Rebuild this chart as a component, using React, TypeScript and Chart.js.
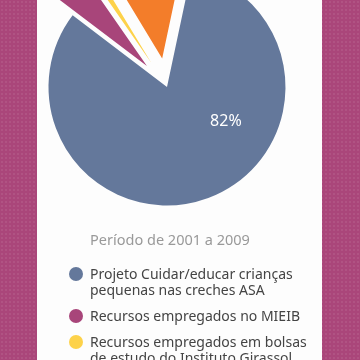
import React, { useEffect, useRef } from "react";
import { Chart, registerables } from "chart.js";

Chart.register(...registerables);

// ---- data ----
const categories: string[][] = [
  ["Projeto Cuidar/educar crianças", "pequenas nas creches ASA"],
  ["Recursos empregados no MIEIB"],
  ["Recursos empregados em bolsas", "de estudo do Instituto Girassol"],
  ["Outros"],
];
const values: number[] = [82, 5, 1, 12];
const sliceColors: string[] = ["#64789b", "#a8457a", "#fdd24a", "#f37d2a"];
const explodeShift: number[] = [0, 29, 29, 29]; // pixel shift of each slice along its bisector
const chartTitle = "Período de 2001 a 2009";

const FONT = "'Noto Sans', 'Open Sans', sans-serif";
const PIE_RADIUS = 118.5;
const CANVAS = 360;

// moves exploded slices outward without Chart.js shrinking/narrowing them
const explodePlugin = {
  id: "explode",
  afterDatasetsUpdate(chart: any) {
    const meta = chart.getDatasetMeta(0);
    meta.data.forEach((arc: any, i: number) => {
      const s = explodeShift[i] || 0;
      if (!s) return;
      const mid = (arc.startAngle + arc.endAngle) / 2;
      arc.x += Math.cos(mid) * s;
      arc.y += Math.sin(mid) * s;
    });
  },
};

const pctLabelPlugin = {
  id: "pctLabels",
  afterDatasetsDraw(chart: any) {
    const meta = chart.getDatasetMeta(0);
    const ds = chart.data.datasets[0];
    const sum = (ds.data as number[]).reduce((a, b) => a + b, 0);
    const ctx = chart.ctx;
    ctx.save();
    ctx.fillStyle = "#ffffff";
    ctx.font = `16px ${FONT}`;
    ctx.textAlign = "center";
    ctx.textBaseline = "middle";
    meta.data.forEach((arc: any, i: number) => {
      const v = ds.data[i] as number;
      const pct = Math.round((v / sum) * 100);
      if (pct < 10) return;
      const { x, y, startAngle, endAngle, outerRadius } = arc;
      const a = startAngle + (endAngle - startAngle) * 0.366;
      const r = outerRadius * 0.574;
      ctx.fillText(pct + "%", x + Math.cos(a) * r, y + Math.sin(a) * r);
    });
    ctx.restore();
  },
};

export default function App() {
  const ref = useRef<HTMLCanvasElement | null>(null);

  useEffect(() => {
    if (!ref.current) return;
    const chart = new Chart(ref.current, {
      type: "pie",
      data: {
        labels: categories.map((c) => c.join(" ")),
        datasets: [
          {
            data: values,
            backgroundColor: sliceColors,
            borderWidth: 0,
            hoverOffset: 0,
          },
        ],
      },
      options: {
        responsive: false,
        animation: false,
        rotation: 12,
        radius: PIE_RADIUS,
        layout: { padding: 0 },
        plugins: {
          legend: { display: false },
          title: { display: false },
          tooltip: { enabled: false },
        },
        events: [],
      },
      plugins: [explodePlugin, pctLabelPlugin],
    });
    return () => chart.destroy();
  }, []);

  return (
    <div
      style={{
        position: "fixed",
        inset: 0,
        overflow: "hidden",
        backgroundColor: "#aa467a",
        backgroundImage:
          "radial-gradient(rgba(255,255,255,0.07) 0.8px, transparent 1.1px)",
        backgroundSize: "4px 4px",
        fontFamily: FONT,
      }}
    >
      <div
        style={{
          position: "absolute",
          left: 37,
          top: 0,
          width: 285,
          height: "100%",
          background: "#fdfdfd",
        }}
      />
      <canvas
        ref={ref}
        width={CANVAS}
        height={CANVAS}
        style={{
          position: "absolute",
          left: 167 - CANVAS / 2,
          top: 87 - CANVAS / 2,
          width: CANVAS,
          height: CANVAS,
        }}
      />
      <div
        style={{
          position: "absolute",
          left: 0,
          width: 340,
          top: 229,
          textAlign: "center",
          fontSize: 14.5,
          lineHeight: "20px",
          color: "#999999",
        }}
      >
        {chartTitle}
      </div>
      <div style={{ position: "absolute", left: 69, top: 266 }}>
        {categories.map((lines, i) => (
          <div
            key={i}
            style={{ display: "flex", alignItems: "flex-start", marginBottom: 10 }}
          >
            <div
              style={{
                width: 14,
                height: 14,
                borderRadius: "50%",
                background: sliceColors[i],
                marginTop: 1,
                flex: "none",
              }}
            />
            <div
              style={{
                marginLeft: 7,
                fontSize: 14,
                lineHeight: "16px",
                color: "#444444",
                whiteSpace: "nowrap",
              }}
            >
              {lines.map((l, j) => (
                <div key={j}>{l}</div>
              ))}
            </div>
          </div>
        ))}
      </div>
    </div>
  );
}
